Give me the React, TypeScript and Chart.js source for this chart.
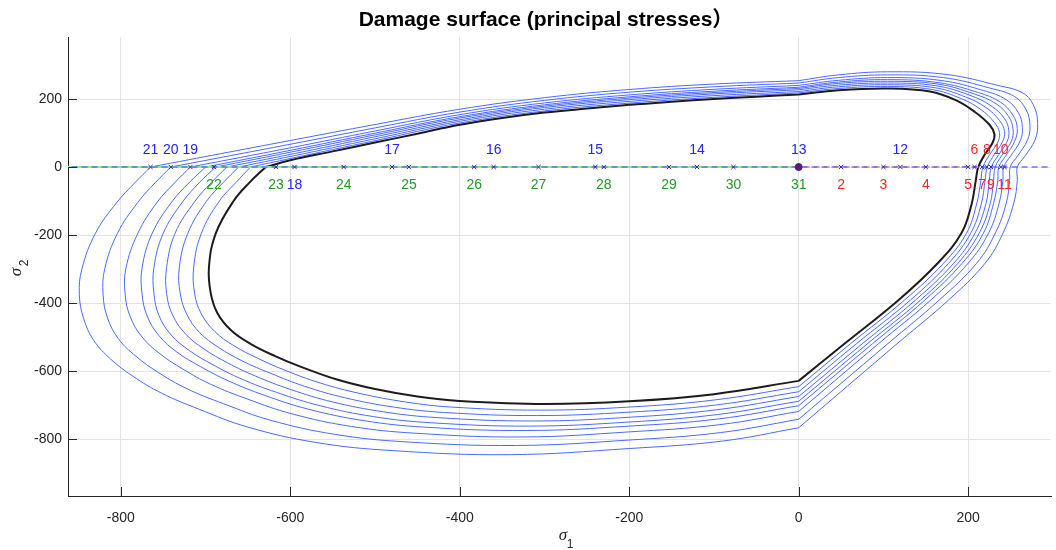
import React, { useEffect, useRef } from 'react';
import { Chart, registerables } from 'chart.js';

Chart.register(...registerables);

type P = [number, number];

const xLimits = [-862.4, 297.8];
const yLimits = [-967.6, 382.4];
const xTicks = [-800, -600, -400, -200, 0, 200];
const yTicks = [-800, -600, -400, -200, 0, 200];

// ---- initial damage surface (black) ----
const blackLower: P[] = [[-629,0],[-648,-45],[-667,-100],[-688,-195],[-696,-293],[-694,-370],[-686,-430],[-670,-480],[-647,-520],[-618,-556],[-585,-590],[-545,-625],[-500,-653],[-450,-675],[-400,-688],[-300,-697],[-200,-689],[-100,-668],[0,-629]];
const blackRight: P[] = [[0,-629],[54,-520],[118,-391],[164,-283],[192,-195],[204,-110],[209,-40],[212,0],[220,38],[229,72],[231,97],[225,125],[208,162],[186,196],[155,222],[105,231],[47,226],[0,213]];
const blackTop: P[] = [[0,213],[-50,207],[-100,200],[-150,192],[-200,183],[-250,172],[-300,160],[-350,144],[-400,124],[-450,98],[-500,72],[-550,46],[-600,20],[-629,0]];

// ---- evolved damage surfaces (blue), inner to outer ----
const blue1Lower: P[] = [[-647,0],[-664,-45],[-684,-101],[-705,-195],[-714,-294],[-713,-371],[-705,-432],[-689,-484],[-667,-525],[-638,-563],[-605,-599],[-565,-635],[-518,-666],[-464,-691],[-410,-706],[-305,-715],[-200,-706],[-99,-685],[0,-646]];
const blue1Right: P[] = [[0,-646],[61,-520],[125,-391],[171,-283],[198,-195],[210,-109],[215,-40],[217.5,0],[225.6,37],[235,73],[237,101],[231,131],[215,169],[192,201],[157,228],[105,237],[47,231],[0,218]];
const blue1Top: P[] = [[0,218],[-100,205],[-200,188],[-300,165],[-400,129.5],[-500,77.5],[-600,25],[-647,0]];

const blue2Lower: P[] = [[-661,0],[-679,-45],[-699,-101],[-721,-195],[-731,-295],[-730,-371],[-722,-434],[-707,-487],[-685,-530],[-657,-570],[-623,-607],[-583,-645],[-535,-679],[-478,-706],[-418,-722],[-309,-731],[-200,-721],[-98,-700],[0,-661]];
const blue2Right: P[] = [[0,-661],[68,-520],[132,-391],[177,-283],[203,-195],[215.5,-109],[220,-40],[222.6,0],[231,37],[240.5,74],[243,104],[237,137],[221,175],[197,206],[160,233.5],[105,242],[47,236],[0,222]];
const blue2Top: P[] = [[0,222],[-100,210],[-200,193],[-300,170],[-400,134.5],[-500,83],[-600,31],[-661,0]];

const blue3Lower: P[] = [[-675,0],[-693,-45],[-713,-102],[-736,-195],[-746,-295],[-746,-372],[-739,-435],[-724,-490],[-702,-535],[-674,-576],[-641,-615],[-600,-654],[-550,-691],[-490,-720],[-427,-737],[-313,-747],[-200,-736],[-97,-714],[0,-675]];
const blue3Right: P[] = [[0,-675],[75,-520],[138,-391],[183,-283],[208,-195],[221,-108],[225,-40],[227.4,0],[236,36],[246,75],[248,107],[243,142],[227,180],[202,211],[162,239],[105,247],[47,241],[0,227]];
const blue3Top: P[] = [[0,227],[-100,215],[-200,198],[-300,175],[-400,139],[-500,89],[-600,37],[-675,0]];

const blue4Lower: P[] = [[-688,0],[-707,-45],[-727,-102],[-750,-195],[-761,-296],[-761,-372],[-755,-437],[-741,-493],[-719,-540],[-691,-582],[-658,-623],[-616,-663],[-565,-702],[-502,-734],[-435,-752],[-317,-762],[-200,-750],[-96,-728],[0,-689]];
const blue4Right: P[] = [[0,-689],[81,-520],[144,-391],[188,-283],[213,-195],[226,-108],[230,-40],[232,0],[240,35],[251,75.5],[253,110.5],[248,148],[233,186],[207,215],[164,244],[105,252],[47,246],[0,231]];
const blue4Top: P[] = [[0,231],[-100,219],[-200,202.5],[-300,179],[-400,144],[-500,94.5],[-600,43.5],[-688,0]];

const blue5Lower: P[] = [[-700,0],[-719,-45],[-740,-103],[-763,-195],[-775,-297],[-775,-373],[-769,-438],[-755,-496],[-734,-544],[-706,-587],[-673,-629],[-631,-671],[-579,-712],[-513,-746],[-442,-765],[-321,-775],[-200,-762],[-95,-741],[0,-702]];
const blue5Right: P[] = [[0,-702],[87,-520],[149,-391],[193,-283],[218,-195],[230,-107],[235,-40],[236.2,0],[245,35],[255,76],[258,113],[253,152],[238,191],[212,219],[165.5,248],[105,257],[47,250],[0,234.5]];
const blue5Top: P[] = [[0,234.5],[-100,223],[-200,206.5],[-300,183],[-400,148],[-500,99.5],[-600,49],[-700,0]];

const blue6Lower: P[] = [[-718,0],[-736,-45],[-757,-103],[-780,-195],[-794,-298],[-795,-373],[-789,-440],[-775,-500],[-754,-549],[-727,-594],[-694,-639],[-651,-682],[-598,-726],[-528,-763],[-452,-783],[-326,-794],[-200,-779],[-94,-758],[0,-719]];
const blue6Right: P[] = [[0,-719],[94,-520],[156,-391],[200,-283],[224,-195],[236.5,-107],[241,-40],[242,0],[250.6,34],[261.5,77],[264,117],[259.5,159],[245,198],[218,225],[168,254.5],[105,263],[47,255],[0,240]];
const blue6Top: P[] = [[0,240],[-100,228.5],[-200,212],[-300,188.5],[-400,154],[-500,106],[-600,56.5],[-718,0]];

const blue7Lower: P[] = [[-741,0],[-759,-45],[-780,-104],[-804,-195],[-819,-299],[-821,-374],[-816,-442],[-803,-505],[-782,-557],[-756,-604],[-722,-652],[-679,-696],[-623,-745],[-548,-786],[-466,-808],[-333,-819],[-200,-803],[-92,-781],[0,-742]];
const blue7Right: P[] = [[0,-742],[105,-520],[166,-391],[210,-283],[232,-195],[245,-106],[249,-40],[249.7,0],[258.5,33],[270,79],[273,122],[268.5,168],[255,207],[226,232],[171,263],[105,271],[47,263],[0,247]];
const blue7Top: P[] = [[0,247],[-100,236],[-200,220],[-300,196],[-400,161.5],[-500,115],[-600,67],[-741,0]];

const blue8Lower: P[] = [[-765,0],[-783,-45],[-805,-105],[-830,-195],[-846,-300],[-849,-375],[-844,-445],[-832,-510],[-812,-565],[-786,-615],[-752,-665],[-708,-712],[-650,-765],[-570,-810],[-480,-834],[-340,-846],[-200,-828],[-90,-806],[0,-767]];
const blue8Right: P[] = [[0,-767],[116,-520],[177,-391],[220,-283],[241,-195],[254,-105],[258,-40],[258,0],[267,32],[279,80],[282,128],[278,177],[265,217],[235,240],[175,272],[105,280],[47,271],[0,254]];
const blue8Top: P[] = [[0,254],[-100,244],[-200,228],[-300,204],[-400,170],[-500,125],[-600,78],[-765,0]];

// ---- loading path on sigma2 = 0 ----
const compressionLineX = [-870, 0];
const tensionLineX = [0, 212];
const axisLineX = [-870, 310];

const redIds = ['2','3','4','5','6','7','8','9','10','11'];
const redX = [50, 100, 150, 200, 207.5, 216.5, 222, 227, 238.5, 243];
const redAbove = [false, false, false, false, true, false, true, false, true, false];

const blueIds = ['12','13','14','15','16','17','18','19','20','21'];
const blueX = [120, 0, -120, -240, -360, -480, -595, -718, -741, -765];
const blueAbove = [true, true, true, true, true, true, false, true, true, true];

const greenIds = ['22','23','24','25','26','27','28','29','30','31'];
const greenX = [-690, -617, -537, -460, -383, -307, -230, -153, -77, 0];

const originX = [0];

const toPts = (parts: P[][]) => {
  const out: any[] = [];
  parts.forEach((p, i) => {
    if (i > 0) out.push({ x: null, y: null });
    p.forEach(([x, y]) => out.push({ x, y }));
  });
  return out;
};

const onAxis = (xs: number[]) => xs.map((x) => ({ x, y: 0 }));

const FONT = '"Liberation Sans", Arial, sans-serif';
const BLUE_CURVE = 'rgb(75,105,255)';

export default function App() {
  const ref = useRef<HTMLCanvasElement | null>(null);

  useEffect(() => {
    document.body.style.margin = '0';
    const canvas = ref.current;
    if (!canvas) return;

    const blueCurves: P[][][] = [
      [blue1Lower, blue1Right, blue1Top],
      [blue2Lower, blue2Right, blue2Top],
      [blue3Lower, blue3Right, blue3Top],
      [blue4Lower, blue4Right, blue4Top],
      [blue5Lower, blue5Right, blue5Top],
      [blue6Lower, blue6Right, blue6Top],
      [blue7Lower, blue7Right, blue7Top],
      [blue8Lower, blue8Right, blue8Top],
    ];

    const datasets: any[] = blueCurves.map((c, i) => ({
      label: 'surface ' + (i + 1),
      data: toPts(c),
      showLine: true,
      borderColor: BLUE_CURVE,
      borderWidth: 1,
      tension: 0.4,
      pointRadius: 0,
      order: 10,
    }));
    datasets.push({
      label: 'initial',
      data: toPts([blackLower, blackRight, blackTop]),
      showLine: true,
      borderColor: '#1c1c1c',
      borderWidth: 2,
      tension: 0.4,
      pointRadius: 0,
      order: 9,
    });
    datasets.push({
      label: 'compression',
      data: onAxis(compressionLineX),
      showLine: true,
      borderColor: 'rgb(140,235,140)',
      borderWidth: 2,
      pointRadius: 0,
      order: 8,
    });
    datasets.push({
      label: 'tension',
      data: onAxis(tensionLineX),
      showLine: true,
      borderColor: 'rgb(255,150,150)',
      borderWidth: 2,
      borderDash: [6, 4],
      borderDashOffset: 5,
      pointRadius: 0,
      order: 7,
    });
    datasets.push({
      label: 'axis',
      data: onAxis(axisLineX),
      showLine: true,
      borderColor: 'rgba(90,90,255,0.85)',
      borderWidth: 1.5,
      borderDash: [6, 4],
      pointRadius: 0,
      order: 6,
    });
    datasets.push({
      label: 'points',
      data: onAxis([...redX, ...blueX, ...greenX]),
      showLine: false,
      pointStyle: 'crossRot',
      pointRadius: 3,
      pointBorderColor: 'rgb(45,45,170)',
      pointBorderWidth: 1,
      order: 2,
    });
    datasets.push({
      label: 'origin',
      data: onAxis(originX),
      showLine: false,
      pointStyle: 'circle',
      pointRadius: 3.5,
      pointBackgroundColor: 'rgb(110,20,110)',
      pointBorderColor: 'rgb(40,40,150)',
      pointBorderWidth: 1,
      order: 1,
    });

    const overlay = {
      id: 'overlay',
      afterDraw(chart: any) {
        const { ctx, chartArea } = chart;
        const xs = chart.scales.x;
        const ys = chart.scales.y;
        ctx.save();
        // inward tick marks
        ctx.strokeStyle = '#262626';
        ctx.lineWidth = 1;
        ctx.beginPath();
        xTicks.forEach((v) => {
          const px = Math.round(xs.getPixelForValue(v)) + 0.5;
          ctx.moveTo(px, chartArea.bottom);
          ctx.lineTo(px, chartArea.bottom - 9);
        });
        yTicks.forEach((v) => {
          const py = Math.round(ys.getPixelForValue(v)) + 0.5;
          ctx.moveTo(chartArea.left, py);
          ctx.lineTo(chartArea.left + 9, py);
        });
        ctx.stroke();

        // point labels
        const y0 = ys.getPixelForValue(0);
        ctx.font = '14px ' + FONT;
        ctx.textAlign = 'center';
        ctx.textBaseline = 'middle';
        const drawSet = (ids: string[], xsv: number[], color: string, above: (i: number) => boolean) => {
          ctx.fillStyle = color;
          ids.forEach((id, i) => {
            const px = xs.getPixelForValue(xsv[i]);
            ctx.fillText(id, px, y0 + (above(i) ? -17 : 18));
          });
        };
        drawSet(redIds, redX, 'rgb(255,35,35)', (i) => redAbove[i]);
        drawSet(blueIds, blueX, 'rgb(35,35,255)', (i) => blueAbove[i]);
        drawSet(greenIds, greenX, 'rgb(40,150,40)', () => false);

        // title
        ctx.fillStyle = '#000';
        ctx.font = 'bold 21px "Liberation Sans", "Noto Sans CJK SC", sans-serif';
        ctx.textAlign = 'center';
        ctx.textBaseline = 'middle';
        ctx.fillText('Damage surface (principal stresses\uFF09', 546, 20);

        // axis titles
        ctx.fillStyle = '#262626';
        ctx.font = 'italic 17px "Liberation Serif", serif';
        ctx.fillText('\u03C3', 563, 536);
        ctx.font = '12px ' + FONT;
        ctx.fillText('1', 570, 545);

        ctx.translate(18, 268);
        ctx.rotate(-Math.PI / 2);
        ctx.font = 'italic 17px "Liberation Serif", serif';
        ctx.fillText('\u03C3', -4, -1);
        ctx.font = '12px ' + FONT;
        ctx.fillText('2', 5, 7);
        ctx.restore();
      },
    };

    const tickFont = { family: FONT, size: 14 };

    const chart = new Chart(canvas, {
      type: 'scatter',
      data: { datasets },
      options: {
        responsive: false,
        animation: false,
        devicePixelRatio: 1,
        layout: { padding: { top: 37, right: 3, left: 0, bottom: 0 } },
        plugins: {
          legend: { display: false },
          title: { display: false },
          tooltip: { enabled: false },
        },
        scales: {
          x: {
            type: 'linear',
            min: xLimits[0],
            max: xLimits[1],
            afterFit: (s: any) => { s.height = 54; },
            afterBuildTicks: (s: any) => { s.ticks = xTicks.map((v) => ({ value: v })); },
            grid: { color: '#e3e3e3', drawTicks: false },
            border: { color: '#262626', width: 1 },
            ticks: { padding: 14, font: tickFont, color: '#262626', maxRotation: 0, callback: (v: any) => String(v) },
          },
          y: {
            type: 'linear',
            min: yLimits[0],
            max: yLimits[1],
            afterFit: (s: any) => { s.width = 68; },
            afterBuildTicks: (s: any) => { s.ticks = yTicks.map((v) => ({ value: v })); },
            grid: { color: '#e3e3e3', drawTicks: false },
            border: { color: '#262626', width: 1 },
            ticks: { padding: 6, font: tickFont, color: '#262626', callback: (v: any) => String(v) },
          },
        },
      } as any,
      plugins: [overlay],
    });

    return () => chart.destroy();
  }, []);

  return (
    <div style={{ width: 1056, height: 550 }}>
      <canvas ref={ref} width={1056} height={550} style={{ display: 'block' }} />
    </div>
  );
}
